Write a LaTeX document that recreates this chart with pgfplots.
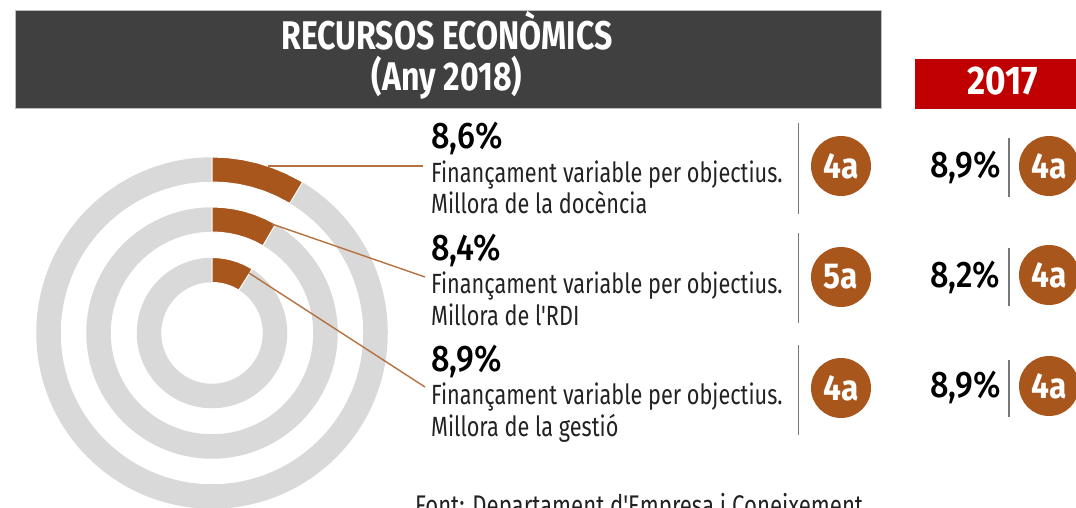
\documentclass[border=0pt]{standalone}
\usepackage{fontspec}
\usepackage{pgfplots}
\pgfplotsset{compat=1.18}
\setmainfont{Fira Sans}
\newfontfamily\cond[FakeStretch=0.78]{Fira Sans}
\newfontfamily\condT[FakeStretch=0.80]{Fira Sans}
\newfontfamily\condP[FakeStretch=0.88]{Fira Sans Medium}
\newfontfamily\condB[FakeStretch=0.88]{Fira Sans}
\definecolor{ringgrey}{HTML}{D9D9D9}
\definecolor{brownish}{HTML}{A8561C}
\definecolor{leader}{HTML}{B5713F}
\definecolor{headgrey}{HTML}{404040}
\definecolor{headline}{HTML}{BDBDBD}
\definecolor{redbox}{HTML}{C00000}
\definecolor{sepgrey}{HTML}{777777}
\definecolor{txt}{HTML}{222222}

\pgfplotsset{ringaxis/.style={
    at={(0,0)}, anchor=south west,
    scale only axis, width=1076pt, height=508pt,
    xmin=-212, xmax=864, ymin=-175, ymax=333,
    hide axis, clip=false}}

\newcommand{\pct}[3]{\node[anchor=base west,inner sep=0pt,text=black] at (axis cs:#1,#2) {\condP\fontsize{37}{37}\selectfont #3};}
\newcommand{\desc}[3]{\node[anchor=base west,inner sep=0pt,text=txt] at (axis cs:#1,#2) {\cond\fontsize{27.8}{27.8}\selectfont #3};}
\newcommand{\badge}[3]{\node[circle,fill=brownish,minimum size=60pt,inner sep=0pt,text=white] at (axis cs:#1,#2) {\condB\fontsize{36}{36}\selectfont\textbf{#3}};}

\begin{document}
\begin{tikzpicture}
  \path[use as bounding box,clip] (0,0) rectangle (1076pt,508pt);

  % grey rings first: marks are painted after the paths of the same axis
  \begin{axis}[ringaxis]
    \addplot[only marks, mark=o, mark size=163.5pt, mark options={draw=ringgrey, line width=24.5pt, fill=none}] coordinates {(0,0)};
    \addplot[only marks, mark=o, mark size=113.5pt, mark options={draw=ringgrey, line width=24.5pt, fill=none}] coordinates {(0,0)};
    \addplot[only marks, mark=o, mark size=63pt, mark options={draw=ringgrey, line width=24.5pt, fill=none}] coordinates {(0,0)};
  \end{axis}

  % 8,6 % / 8,4 % / 8,9 % of the full turn, as (angle,radius) outlines
  \begin{axis}[ringaxis]
    \addplot[fill=brownish, draw=white, line width=1pt, data cs=polar] coordinates {
      (90,176) (85,176) (80,176) (75,176) (70,176) (65,176) (60,176) (59.04,176)
      (59.04,151) (60,151) (65,151) (70,151) (75,151) (80,151) (85,151) (90,151)} -- cycle;
    \addplot[fill=brownish, draw=white, line width=1pt, data cs=polar] coordinates {
      (90,126) (85,126) (80,126) (75,126) (70,126) (65,126) (60,126) (59.76,126)
      (59.76,101) (60,101) (65,101) (70,101) (75,101) (80,101) (85,101) (90,101)} -- cycle;
    \addplot[fill=brownish, draw=white, line width=1pt, data cs=polar] coordinates {
      (90,75.5) (85,75.5) (80,75.5) (75,75.5) (70,75.5) (65,75.5) (60,75.5) (57.96,75.5)
      (57.96,50.5) (60,50.5) (65,50.5) (70,50.5) (75,50.5) (80,50.5) (85,50.5) (90,50.5)} -- cycle;
  \end{axis}

  % everything else in image pixels, y downwards
  \begin{axis}[
      at={(0,0)}, anchor=south west,
      scale only axis, width=1076pt, height=508pt,
      xmin=0, xmax=1076, ymin=0, ymax=508, y dir=reverse,
      hide axis, clip=false,
    ]
    \fill[headgrey, draw=headline, line width=1pt] (axis cs:15.5,10.5) rectangle (axis cs:881,108);
    \fill[redbox] (axis cs:915,59) rectangle (axis cs:1080,109);

    \node[anchor=base,inner sep=0pt,text=white] at (axis cs:447,50) {\condT\fontsize{40}{40}\selectfont\textbf{RECURSOS ECONÒMICS}};
    \node[anchor=base,inner sep=0pt,text=white] at (axis cs:447,90) {\condT\fontsize{40}{40}\selectfont\textbf{(Any 2018)}};
    \node[anchor=base,inner sep=0pt,text=white] at (axis cs:1003,94) {\condB\fontsize{40}{40}\selectfont\textbf{2017}};

    % leaders
    \addplot[leader, line width=1.4pt] coordinates {(268,166) (423,166)};
    \addplot[leader, line width=1.4pt] coordinates {(272,224) (425,277)};
    \addplot[leader, line width=1.4pt] coordinates {(249,273) (425,387)};

    % separators
    \addplot[sepgrey, line width=1.2pt] coordinates {(798.5,123) (798.5,214)};
    \addplot[sepgrey, line width=1.2pt] coordinates {(798.5,233) (798.5,323)};
    \addplot[sepgrey, line width=1.2pt] coordinates {(798.5,345) (798.5,435)};
    \addplot[sepgrey, line width=1.2pt] coordinates {(1009,138) (1009,197)};
    \addplot[sepgrey, line width=1.2pt] coordinates {(1009,248) (1009,306)};
    \addplot[sepgrey, line width=1.2pt] coordinates {(1009,360) (1009,417)};

    \pct{431}{148}{8,6\%}
    \desc{431}{182}{Finançament variable per objectius.}
    \desc{431}{213}{Millora de la docència}
    \pct{431}{260}{8,4\%}
    \desc{431}{293}{Finançament variable per objectius.}
    \desc{431}{325}{Millora de l'RDI}
    \pct{431}{371}{8,9\%}
    \desc{431}{404}{Finançament variable per objectius.}
    \desc{431}{436}{Millora de la gestió}

    \badge{841}{166}{4a}
    \badge{841}{277}{5a}
    \badge{841}{388}{4a}

    \pct{930}{177}{8,9\%}
    \pct{930}{287}{8,2\%}
    \pct{930}{397}{8,9\%}

    \badge{1049}{166}{4a}
    \badge{1049}{275}{4a}
    \badge{1049}{386}{4a}

    \node[anchor=base west,inner sep=0pt,text=txt] at (axis cs:415,515) {\cond\fontsize{28.4}{28.4}\selectfont Font: Departament d'Empresa i Coneixement};
  \end{axis}
\end{tikzpicture}
\end{document}
